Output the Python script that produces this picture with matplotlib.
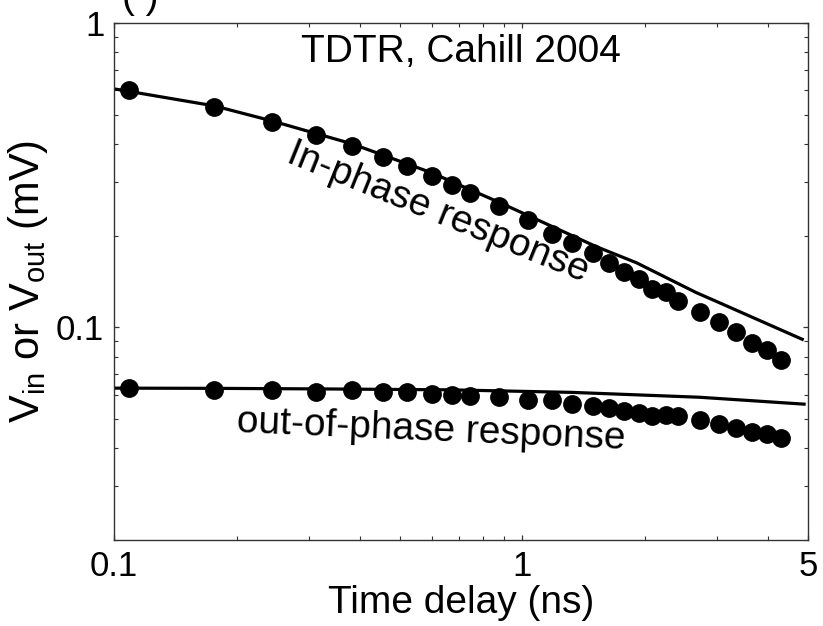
import matplotlib
matplotlib.use("Agg")
import matplotlib.pyplot as plt
from matplotlib.ticker import FixedLocator, NullFormatter

plt.rcParams["font.family"] = ["Liberation Sans", "DejaVu Sans"]
plt.rcParams["mathtext.fontset"] = "custom"
plt.rcParams["mathtext.rm"] = "Liberation Sans"
plt.rcParams["mathtext.it"] = "Liberation Sans:italic"

# time delays (ns), shared by both measured series
delay = [0.109, 0.176, 0.243, 0.312, 0.382, 0.455, 0.523, 0.599, 0.671, 0.742,
         0.874, 1.034, 1.184, 1.325, 1.492, 1.632, 1.776, 1.933, 2.079, 2.249,
         2.406, 2.724, 3.032, 3.337, 3.651, 3.972, 4.298]

# measured in-phase signal (mV)
v_in = [0.600, 0.528, 0.472, 0.430, 0.393, 0.364, 0.338, 0.315, 0.294, 0.277,
        0.250, 0.226, 0.203, 0.189, 0.175, 0.163, 0.152, 0.144, 0.134, 0.131,
        0.122, 0.112, 0.104, 0.0965, 0.0891, 0.0841, 0.0781]

# measured out-of-phase signal (mV)
v_out = [0.0634, 0.0623, 0.0621, 0.0611, 0.0623, 0.0615, 0.0611, 0.0603, 0.0598, 0.0593,
         0.0588, 0.0578, 0.0578, 0.0559, 0.0552, 0.0545, 0.0531, 0.0522, 0.0510, 0.0515,
         0.0512, 0.0497, 0.0481, 0.0466, 0.0454, 0.0446, 0.0432]

# model curves
fit_in_t = [0.1, 0.176, 0.243, 0.382, 0.599, 0.879, 1.517, 1.90, 2.663, 2.98, 4.84]
fit_in_v = [0.6075, 0.534, 0.477, 0.401, 0.322, 0.257, 0.184, 0.163, 0.130, 0.1217, 0.0913]

fit_out_t = [0.1, 0.176, 0.337, 0.663, 1.325, 2.709, 4.89]
fit_out_v = [0.0631, 0.0630, 0.0627, 0.0623, 0.0611, 0.0589, 0.0559]

fig = plt.figure(figsize=(8.23, 6.26), dpi=100)
ax = fig.add_axes([0.1385, 0.1374, 0.8433, 0.8259])

ax.plot(fit_in_t, fit_in_v, color="black", lw=2.3)
ax.plot(fit_out_t, fit_out_v, color="black", lw=2.3)
ax.plot(delay, v_in, "o", color="black", ms=12.5)
ax.plot(delay, v_out, "o", color="black", ms=12.5)

ax.set_xscale("log")
ax.set_yscale("log")
ax.set_xlim(0.1, 5)
ax.set_ylim(0.02, 1)

ax.xaxis.set_major_locator(FixedLocator([0.1, 1, 5]))
ax.set_xticklabels(["0.1", "1", "5"])
ax.xaxis.set_minor_locator(FixedLocator([0.2, 0.3, 0.4, 0.5, 0.6, 0.7, 0.8, 0.9, 2, 3, 4]))
ax.xaxis.set_minor_formatter(NullFormatter())
ax.yaxis.set_major_locator(FixedLocator([0.1, 1]))
ax.set_yticklabels(["0.1", "1"])
ax.yaxis.set_minor_locator(FixedLocator([0.02, 0.03, 0.04, 0.05, 0.06, 0.07, 0.08, 0.09,
                                         0.2, 0.3, 0.4, 0.5, 0.6, 0.7, 0.8, 0.9]))
ax.yaxis.set_minor_formatter(NullFormatter())

ax.tick_params(which="both", direction="in", top=True, right=True, color="#333333")
ax.tick_params(which="major", length=3.8, width=0.9, labelsize=25, pad=7)
ax.tick_params(which="minor", length=3.0, width=0.8)
for s in ax.spines.values():
    s.set_linewidth(1.0)
    s.set_color("#333333")

ax.set_xlabel("Time delay (ns)", fontsize=28, labelpad=2)
ax.set_ylabel(r"V$_{\mathrm{in}}$ or V$_{\mathrm{out}}$ (mV)", fontsize=30)
ax.yaxis.set_label_coords(-0.092, 0.5)

ax.text(0.5, 0.9246, "TDTR, Cahill 2004", transform=ax.transAxes,
        ha="center", va="baseline", fontsize=28)
ax.text(0.461, 0.615, "In-phase response", transform=ax.transAxes,
        ha="center", va="baseline", rotation=-22, rotation_mode="anchor", fontsize=28)
ax.text(0.457, 0.193, "out-of-phase response", transform=ax.transAxes,
        ha="center", va="baseline", rotation=-2.5, rotation_mode="anchor", fontsize=28)

# panel letter, mostly cut off at the top edge
fig.text(0.170, 0.987, "( )", ha="center", va="baseline", fontsize=28)

fig.savefig("out.png", dpi=100)
